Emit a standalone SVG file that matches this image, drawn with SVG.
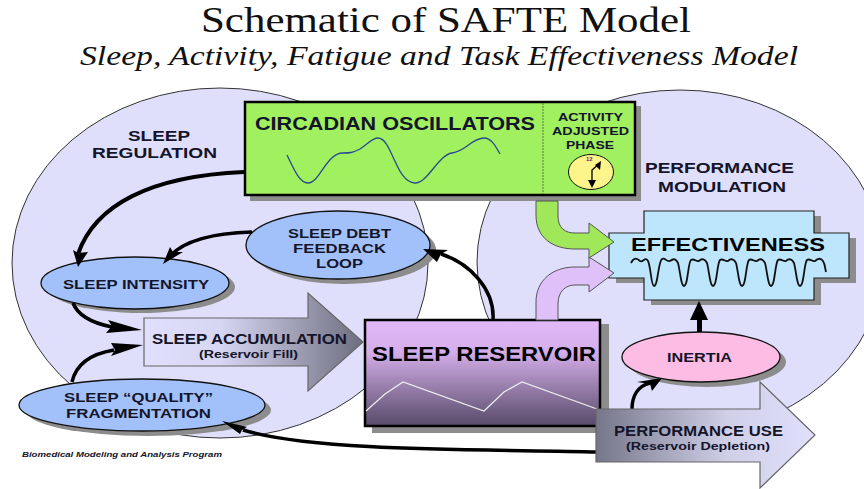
<svg xmlns="http://www.w3.org/2000/svg" width="864" height="489" viewBox="0 0 864 489">
<style>
text{font-family:"Liberation Sans",Arial,sans-serif;font-weight:bold;fill:#14142a;text-anchor:start}
.t{font-family:"Liberation Serif","Times New Roman",serif;font-weight:normal;fill:#111}
.bg{fill:#dfdffc;stroke:#333;stroke-width:1}
.sh{fill:#8c8c8c}
.el{fill:#a2c1fb;stroke:#111;stroke-width:1.3}
.c{fill:none;stroke:#000;stroke-linecap:butt}
.h{fill:#000}
.ar{stroke:#666;stroke-width:1.2}
</style>
<defs>
<linearGradient id="g1" x1="0" x2="1" y1="0" y2="0"><stop offset="0" stop-color="#e0e0fc"/><stop offset="0.35" stop-color="#d6d6f2"/><stop offset="1" stop-color="#6e6e80"/></linearGradient>
<linearGradient id="g2" x1="0" x2="1" y1="0" y2="0"><stop offset="0" stop-color="#76768a"/><stop offset="0.6" stop-color="#cfcfe8"/><stop offset="1" stop-color="#e0e0fc"/></linearGradient>
<linearGradient id="g3" x1="0" x2="0" y1="0" y2="1"><stop offset="0" stop-color="#e2b9fa"/><stop offset="0.3" stop-color="#d4aeea"/><stop offset="1" stop-color="#574a68"/></linearGradient>
</defs>
<rect width="864" height="489" fill="#fff"/>
<text class="t" x="201" y="32" font-size="36" textLength="490" lengthAdjust="spacingAndGlyphs">Schematic of SAFTE Model</text>
<text class="t" x="80" y="65" font-size="27.500" font-style="italic" textLength="718" lengthAdjust="spacingAndGlyphs">Sleep, Activity, Fatigue and Task Effectiveness Model</text>
<g id="sleep-regulation"><ellipse class="bg" cx="220" cy="263" rx="208" ry="175"/>
<text x="128" y="141" font-size="15.500" textLength="62" lengthAdjust="spacingAndGlyphs">SLEEP</text><text x="92" y="158" font-size="15.500" textLength="125" lengthAdjust="spacingAndGlyphs">REGULATION</text></g>
<g id="performance-modulation"><ellipse class="bg" cx="680" cy="262" rx="203" ry="172"/>
<text x="645" y="173" font-size="15.500" textLength="149" lengthAdjust="spacingAndGlyphs">PERFORMANCE</text><text x="658" y="192" font-size="15.500" textLength="128" lengthAdjust="spacingAndGlyphs">MODULATION</text></g>
<g id="circadian">
<rect class="sh" x="250" y="106" width="391" height="95"/>
<rect x="245" y="102" width="390" height="93" fill="#a0f060" stroke="#000" stroke-width="2.500"/>
<line x1="543" y1="103" x2="543" y2="194" stroke="#557a40" stroke-dasharray="2 1"/>
<text x="255" y="130" font-size="18.500" textLength="280" lengthAdjust="spacingAndGlyphs">CIRCADIAN OSCILLATORS</text>
<path d="M287 155C295 172 300 183 308 183C320 183 326 153 343 153C350 153 352 153 360 149C368 144 372 138 378 138C392 138 396 183 415 183C428 183 438 155 452 153C466 151 472 138 484 138C491 138 495 145 500 154" fill="none" stroke="#2a4a90" stroke-width="1.300"/>
<text x="558" y="121" font-size="11.500" textLength="65" lengthAdjust="spacingAndGlyphs">ACTIVITY</text><text x="552" y="135" font-size="11.500" textLength="77" lengthAdjust="spacingAndGlyphs">ADJUSTED</text><text x="566" y="149" font-size="11.500" textLength="48" lengthAdjust="spacingAndGlyphs">PHASE</text>
<ellipse cx="591" cy="172" rx="22.500" ry="17.500" fill="#fdf58c" stroke="#111"/>
<text x="586" y="161" font-size="6" style="fill:#802060">12</text>
<path d="M592 184V170L599 164" fill="none" stroke="#000" stroke-width="1.300"/><path d="M601 161L600 170L595 165ZM592 188L588 180H596Z"/>
</g>
<g id="effectiveness">
<path class="sh" d="M651 216H821V238H856V283H821V305H651V283H616V238H651Z"/>
<path d="M644 211H814V233H849V278H814V300H644V278H609V233H644Z" fill="#bde6fc" stroke="#222" stroke-width="1.200"/>
<text x="631" y="251" font-size="18.500" textLength="194" lengthAdjust="spacingAndGlyphs" style="fill:#000">EFFECTIVENESS</text>
<path d="M631 263C634 257 637 258 640 261C643 263 645 256 648 261C651 267 651 286 654 286C658 286 658 262 662 259C665 257 666 262 670 261C674 258 676 259 678 263C680 270 681 286 684 286C688 286 688 262 691 260C694 258 696 262 699 261C702 258 705 259 707 263C709 270 710 286 713 286C717 286 717 263 720 260C723 258 725 262 728 261C731 258 734 259 736 263C738 270 739 286 742 286C746 286 746 263 749 260C752 258 754 262 757 261C760 258 763 259 765 263C767 270 768 286 771 286C775 286 775 263 778 260C781 258 783 262 786 261C789 258 792 259 794 263C796 270 797 286 800 286C804 286 804 263 807 260C810 258 812 262 815 261C818 258 821 258 823 261C825 264 825 268 826 272" fill="none" stroke="#111" stroke-width="1.800"/>
</g>
<g id="sleep-debt"><ellipse class="sh" cx="344" cy="250" rx="92" ry="34"/><ellipse class="el" cx="338" cy="245" rx="92" ry="34"/>
<text x="288" y="238" font-size="13" textLength="103" lengthAdjust="spacingAndGlyphs">SLEEP DEBT</text><text x="293" y="253" font-size="13" textLength="93" lengthAdjust="spacingAndGlyphs">FEEDBACK</text><text x="316" y="268" font-size="13" textLength="47" lengthAdjust="spacingAndGlyphs">LOOP</text></g>
<g id="sleep-intensity"><ellipse class="sh" cx="141" cy="287" rx="94" ry="26"/><ellipse class="el" cx="135" cy="283" rx="94" ry="26"/>
<text x="63" y="289" font-size="13.500" textLength="146" lengthAdjust="spacingAndGlyphs">SLEEP INTENSITY</text></g>
<g id="sleep-quality"><ellipse class="sh" cx="148" cy="410" rx="123" ry="26"/><ellipse class="el" cx="142" cy="405" rx="123" ry="26"/>
<text x="64" y="402" font-size="13.500" textLength="149" lengthAdjust="spacingAndGlyphs">SLEEP “QUALITY”</text><text x="66" y="418" font-size="13.500" textLength="145" lengthAdjust="spacingAndGlyphs">FRAGMENTATION</text></g>
<g id="sleep-reservoir"><rect class="sh" x="372" y="324" width="237" height="109"/>
<rect x="365" y="320" width="235" height="106" fill="url(#g3)" stroke="#000" stroke-width="2.500"/>
<text x="372" y="361" font-size="20" textLength="224" lengthAdjust="spacingAndGlyphs" style="fill:#000">SLEEP RESERVOIR</text>
<path d="M366 411L385 394L403 382L484 411L504 392L522 382L597 409" fill="none" stroke="#eee" stroke-width="1.200"/></g>
<g id="inertia"><ellipse class="sh" cx="707" cy="362" rx="79" ry="25"/><ellipse cx="701" cy="357" rx="79" ry="25" fill="#fcbce4" stroke="#111" stroke-width="1.300"/>
<text x="667" y="362" font-size="13.500" textLength="65" lengthAdjust="spacingAndGlyphs">INERTIA</text></g>
<g id="connectors">
<path d="M536 320V302C536 280 553 267 575 267H589V257L614 273L589 292V285H575C565 285 558 292 558 304V320Z" fill="#e0c0f8" stroke="#555" stroke-width="1"/>
<path d="M536 201V215C536 238 553 249 575 249H589V258L614 242L589 223V233H575C565 233 558 228 558 216V201Z" fill="#a0e85a" stroke="#555" stroke-width="1"/>
<path class="c" stroke-width="4" d="M244 172C150 176 95 205 78 254"/><path class="h" d="M78 267L73 250L78 253L88 252Z"/>
<path class="c" stroke-width="3.500" d="M252 232C215 233 185 240 170 256"/><path class="h" d="M163 264L170 247L173 252L183 252Z"/>
<path class="c" stroke-width="3.500" d="M493 320C495 290 470 263 441 254"/><path class="h" d="M423 249L448 250L441 254L437 262Z"/>
<path class="c" stroke-width="3.500" d="M73 303C78 316 92 323 112 327"/><path class="h" d="M142 330L106 333L112 326L108 320Z"/>
<path class="c" stroke-width="3.500" d="M72 382C76 364 90 354 114 350"/><path class="h" d="M143 345L111 356L115 350L111 343Z"/>
<path class="c" stroke-width="3.500" d="M597 452C500 449 320 453 243 430"/><path class="h" d="M222 421L247 427L242 430L240 434Z"/>
<path class="c" stroke-width="3.500" d="M632 409C632 396 638 386 650 383"/><path class="h" d="M662 378L652 391L650 384L637 382Z"/>
<rect x="697" y="318" width="5" height="14" fill="#000"/><path class="h" d="M699 301L708 320H690Z"/>
</g>
<g id="sleep-accumulation"><path class="ar" d="M144 318H308V293L363 342L308 391V366H144Z" fill="url(#g1)"/>
<text x="152" y="344" font-size="14.500" textLength="195" lengthAdjust="spacingAndGlyphs">SLEEP ACCUMULATION</text><text x="199" y="358" font-size="10.500" textLength="99" lengthAdjust="spacingAndGlyphs">(Reservoir Fill)</text></g>
<g id="performance-use"><path class="ar" d="M596 409H760V382L815 435L760 488V462H596Z" fill="url(#g2)"/>
<text x="614" y="436" font-size="14.500" textLength="169" lengthAdjust="spacingAndGlyphs">PERFORMANCE USE</text><text x="626" y="450" font-size="10.500" textLength="144" lengthAdjust="spacingAndGlyphs">(Reservoir Depletion)</text></g>
<text x="22" y="457" font-size="7.800" font-style="italic" textLength="200" lengthAdjust="spacingAndGlyphs">Biomedical Modeling and Analysis Program</text>
</svg>
